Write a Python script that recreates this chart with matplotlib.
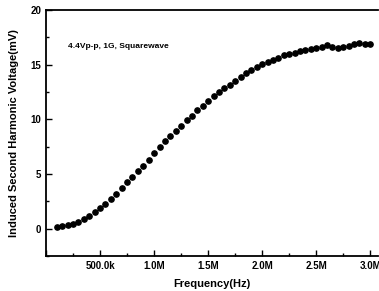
import numpy as np
import matplotlib
matplotlib.use("Agg")
import matplotlib.pyplot as plt
from matplotlib.ticker import MultipleLocator, FuncFormatter

# Frequency points (MHz) and induced 2nd harmonic voltage (mV)
freq_mhz = [0.10, 0.15, 0.20, 0.25, 0.30, 0.35, 0.40, 0.45, 0.50, 0.55,
            0.60, 0.65, 0.70, 0.75, 0.80, 0.85, 0.90, 0.95, 1.00, 1.05,
            1.10, 1.15, 1.20, 1.25, 1.30, 1.35, 1.40, 1.45, 1.50, 1.55,
            1.60, 1.65, 1.70, 1.75, 1.80, 1.85, 1.90, 1.95, 2.00, 2.05,
            2.10, 2.15, 2.20, 2.25, 2.30, 2.35, 2.40, 2.45, 2.50, 2.55,
            2.60, 2.65, 2.70, 2.75, 2.80, 2.85, 2.90, 2.95, 3.00]
voltage_mv = [0.12, 0.20, 0.30, 0.45, 0.65, 0.90, 1.20, 1.50, 1.85, 2.25,
              2.70, 3.20, 3.70, 4.25, 4.75, 5.25, 5.75, 6.30, 6.90, 7.50,
              8.00, 8.45, 8.95, 9.40, 9.90, 10.35, 10.85, 11.25, 11.65, 12.10,
              12.50, 12.85, 13.15, 13.50, 13.90, 14.20, 14.50, 14.80, 15.05, 15.25,
              15.45, 15.65, 15.85, 16.00, 16.10, 16.25, 16.35, 16.40, 16.50, 16.60,
              16.80, 16.65, 16.55, 16.65, 16.75, 16.85, 16.95, 16.85, 16.85]
annotation = "4.4Vp-p, 1G, Squarewave"

plt.rcParams["font.family"] = ["Liberation Sans", "DejaVu Sans"]
plt.rcParams["font.weight"] = "bold"

fig = plt.figure(figsize=(3.79, 2.91), dpi=100)
ax = fig.add_axes([0.1214, 0.1203, 0.8756, 0.8453])

freq_hz = np.array(freq_mhz) * 1e6
ax.plot(freq_hz, voltage_mv, linestyle="none", marker="o", ms=3.8, color="black")

ax.set_xlim(0, 3.07e6)
ax.set_ylim(-2.5, 20)

ax.xaxis.set_major_locator(MultipleLocator(0.5e6))
ax.xaxis.set_minor_locator(MultipleLocator(0.25e6))
ax.yaxis.set_major_locator(MultipleLocator(5))
ax.yaxis.set_minor_locator(MultipleLocator(2.5))


def fmt_freq(x, pos):
    if x <= 0:
        return ""
    if x < 1e6:
        return f"{x / 1e3:.1f}k"
    return f"{x / 1e6:.1f}M"


ax.xaxis.set_major_formatter(FuncFormatter(fmt_freq))

ax.tick_params(which="both", direction="in", top=False, right=False, labelsize=7, width=1.0)
ax.tick_params(which="major", length=4)
ax.tick_params(which="minor", length=2)
for lab in ax.get_xticklabels() + ax.get_yticklabels():
    lab.set_fontweight("bold")

ax.spines["right"].set_visible(False)
for s in ["left", "bottom", "top"]:
    ax.spines[s].set_linewidth(1.3)

ax.set_xlabel("Frequency(Hz)", fontsize=8, fontweight="bold", labelpad=6)
ax.set_ylabel("Induced Second Harmonic Voltage(mV)", fontsize=8, fontweight="bold", labelpad=8)

ax.text(0.065, 0.845, annotation, transform=ax.transAxes, fontsize=6, fontweight="bold")

fig.savefig("out.png", dpi=100)
